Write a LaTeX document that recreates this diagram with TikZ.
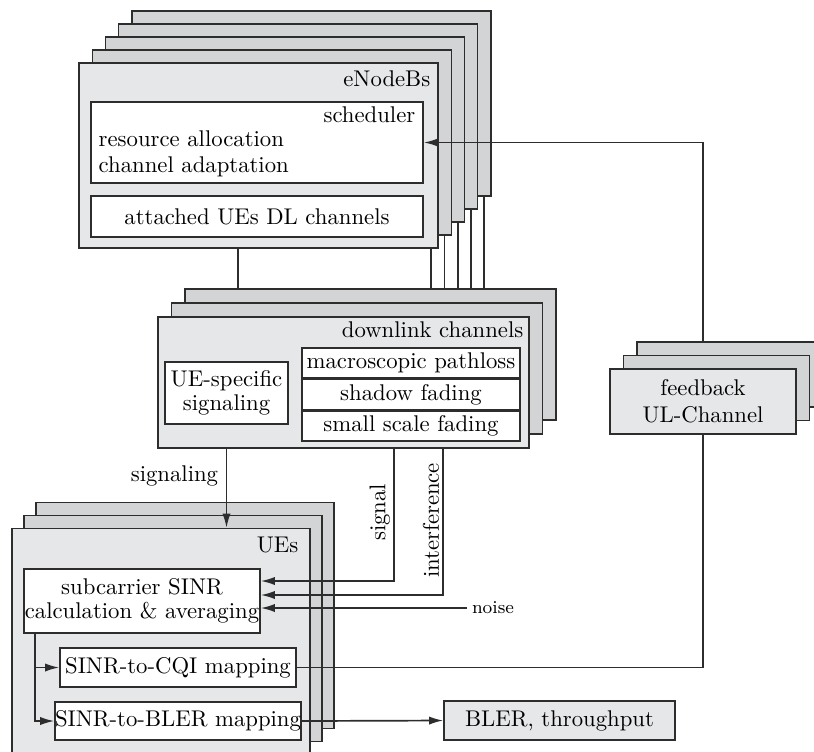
\documentclass[tikz,border=0pt]{standalone}
\usetikzlibrary{arrows.meta,calc,positioning}
\definecolor{boxfront}{RGB}{230,231,233}
\definecolor{boxback}{RGB}{211,212,214}
\definecolor{boxline}{RGB}{45,45,45}
\newcommand{\pxl}{0.44}
\tikzstyle{frontbox}=[
      rectangle,
      draw = boxline,
      fill = boxfront,
      line width = 0.65pt,
      inner sep = 0pt
      ]
\tikzstyle{backbox}=[frontbox, fill = boxback]
\tikzstyle{whitebox}=[frontbox, fill = white]
\tikzstyle{lbl}=[inner sep = 0pt, text height = 1.5ex, text depth = 0.25ex]
\tikzstyle{tightlines}=[align = center, font = \fontsize{10pt}{10.5pt}\selectfont]
\tikzstyle{link}=[draw = boxline, line width = 0.75pt]
\tikzstyle{arrowlink}=[link, -{Latex[length=6.2pt,width=3.6pt]}]

\begin{document}
\begin{tikzpicture}[x=\pxl pt, y=-\pxl pt]
\useasboundingbox (0,0) rectangle (814,751);

% eNodeBs
\foreach \i in {4,...,1}
  \node [backbox, minimum width=359*\pxl pt, minimum height=185*\pxl pt] (enb\i) at (258.5+13.25*\i, 155.5-13*\i) {};
\node [frontbox, minimum width=359*\pxl pt, minimum height=185*\pxl pt] (enb0) at (258.5,155.5) {};
\node [lbl, anchor=east] at ($(enb0.north east)+(-8,18)$) {eNodeBs};
\node [whitebox, minimum width=332*\pxl pt, minimum height=81*\pxl pt] (sched) at (257,142.5) {};
\node [lbl, anchor=east] at ($(sched.north east)+(-8,15.5)$) {scheduler};
\node [lbl, anchor=west] at ($(sched.north west)+(8,39)$) {resource allocation};
\node [lbl, anchor=west] at ($(sched.north west)+(8,65)$) {channel adaptation};
\node [whitebox, minimum width=332*\pxl pt, minimum height=41*\pxl pt] (att) at (257,216.5) {attached UEs DL channels};

% downlink channels
\foreach \i in {2,1}
  \node [backbox, minimum width=371*\pxl pt, minimum height=131*\pxl pt] (dl\i) at (343.5+13.5*\i, 382.5-14*\i) {};
\node [frontbox, minimum width=371*\pxl pt, minimum height=131*\pxl pt] (dl0) at (343.5,382.5) {};
\node [lbl, anchor=east] at ($(dl0.north east)+(-6,15)$) {downlink channels};
\node [whitebox, minimum width=123*\pxl pt, minimum height=62*\pxl pt, tightlines] (uesig) at (226.5,393) {UE-specific\\signaling};
\node [whitebox, minimum width=218*\pxl pt, minimum height=30*\pxl pt] (pl) at (411,363) {macroscopic pathloss};
\node [whitebox, minimum width=218*\pxl pt, minimum height=30*\pxl pt, below=0pt of pl] (shf) {shadow fading};
\node [whitebox, minimum width=218*\pxl pt, minimum height=30*\pxl pt, below=0pt of shf] (ssf) {small scale fading};

% feedback
\foreach \i in {2,1}
  \node [backbox, minimum width=186*\pxl pt, minimum height=65*\pxl pt] (fb\i) at (703+13.5*\i, 401.5-13.5*\i) {};
\node [frontbox, minimum width=186*\pxl pt, minimum height=65*\pxl pt, align=center] (fb0) at (703,401.5) {feedback\\UL-Channel};

% UEs
\foreach \i in {2,1}
  \node [backbox, minimum width=298*\pxl pt, minimum height=226*\pxl pt] (ue\i) at (161+12*\i, 641.5-13*\i) {};
\node [frontbox, minimum width=298*\pxl pt, minimum height=226*\pxl pt] (ue0) at (161,641.5) {};
\node [lbl, anchor=east] at ($(ue0.north east)+(-12,19)$) {UEs};
\node [whitebox, minimum width=236*\pxl pt, minimum height=64*\pxl pt, tightlines] (sinr) at (142,601) {subcarrier SINR\\calculation \& averaging};
\node [whitebox, minimum width=236*\pxl pt, minimum height=39*\pxl pt] (cqi) at (178,667.5) {SINR-to-CQI mapping};
\node [whitebox, minimum width=236*\pxl pt, minimum height=38*\pxl pt] (blmap) at (178,721) {SINR-to-BLER mapping};
\node [frontbox, minimum width=231*\pxl pt, minimum height=39*\pxl pt] (res) at (559.5,720.5) {BLER, throughput};
\node [anchor=west, font=\footnotesize, inner sep=2pt] (noise) at (467,608) {noise};

% connections
\draw [link] ($(enb0.south)+(-20.5,0)$) coordinate (enbout) -- (enbout |- dl2.north);
\foreach \i in {0,...,4}
  \draw [link] ($(enb\i.south east)+(-7.5,0)$) coordinate (enbtap) -- (enbtap |- dl2.north);
\draw [arrowlink] (fb0.north |- fb2.north) |- (sched.east);
\draw [link] (cqi.east) -| (fb0.south);
\draw [arrowlink] (uesig.south |- dl0.south) -- node [left, pos=0.34] {signaling} (uesig.south |- ue0.north);
\draw [arrowlink] ($(dl0.south west)+(237,0)$) |- node [rotate=90, anchor=south, inner sep=1.5pt, pos=0.24] {signal} ($(sinr.east)+(0,-20)$);
\draw [arrowlink] ($(dl0.south west)+(286,0)$) |- node [rotate=90, anchor=south, inner sep=1.5pt, pos=0.245] {interference} ($(sinr.east)+(0,-6)$);
\draw [arrowlink] (noise.west) -- (noise.west -| sinr.east);
\draw [arrowlink] ($(sinr.south west)+(12,0)$) coordinate (branch) |- (blmap.west);
\draw [arrowlink] (branch |- cqi.west) -- (cqi.west);
\draw [arrowlink] (blmap.east) -- (res.west);
\end{tikzpicture}
\end{document}
